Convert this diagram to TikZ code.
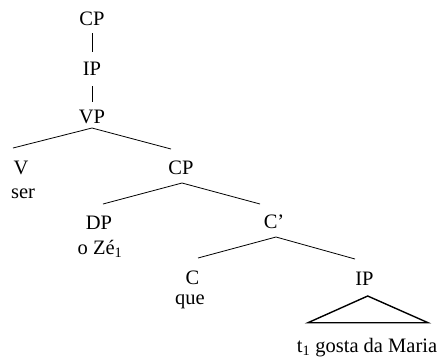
\documentclass[tikz,border=0pt]{standalone}
\usepackage{fontspec}
\setmainfont{Liberation Serif}
\begin{document}
\begin{tikzpicture}[x=1pt,y=-1pt,
  lab/.style={anchor=base,inner sep=0pt,font=\fontsize{20.5}{22}\selectfont},
  br/.style={line width=0.8pt},
  tri/.style={line width=1.4pt,line join=miter}]
\useasboundingbox (0,0) rectangle (444,360);
% labels
\node[lab] (cp1) at (92,25.3) {CP};
\node[lab] (ip1) at (92,75) {IP};
\node[lab] (vp) at (92,123.3) {VP};
\node[lab] (v) at (21,174.5) {V};
\node[lab] (ser) at (23,198.5) {ser};
\node[lab] (cp2) at (181,174.5) {CP};
\node[lab] (dp) at (99,229.5) {DP};
\node[lab] (oze) at (100,254) {o Zé\textsubscript{1}};
\node[lab] (cbar) at (274,228.3) {C’};
\node[lab] (c) at (192.5,284) {C};
\node[lab] (que) at (190,304) {que};
\node[lab] (ip2) at (364.5,285) {IP};
\node[lab] (tg) at (367,352) {t\textsubscript{1} gosta da Maria};
% branch end points
\coordinate (cp1b) at (92,33);
\coordinate (ip1t) at (92,52);
\coordinate (ip1b) at (92,86);
\coordinate (vpt) at (92,102);
\coordinate (vpb) at (92,128);
\coordinate (vt) at (13,148);
\coordinate (cp2t) at (171,149);
\coordinate (cp2b) at (182,183);
\coordinate (dpt) at (103,204);
\coordinate (cbart) at (260,204);
\coordinate (cbarb) at (276,237);
\coordinate (ct) at (198,258);
\coordinate (ip2t) at (355,259);
\coordinate (tria) at (367.7,296);
\coordinate (tril) at (308,322.7);
\coordinate (trir) at (428,322.7);
% connectors
\draw[br] (cp1b) -- (ip1t);
\draw[br] (ip1b) -- (vpt);
\draw[br] (vt) -- (vpb) -- (cp2t);
\draw[br] (dpt) -- (cp2b) -- (cbart);
\draw[br] (ct) -- (cbarb) -- (ip2t);
\draw[tri] (tria) -- (tril) -- (trir) -- cycle;
\end{tikzpicture}
\end{document}
